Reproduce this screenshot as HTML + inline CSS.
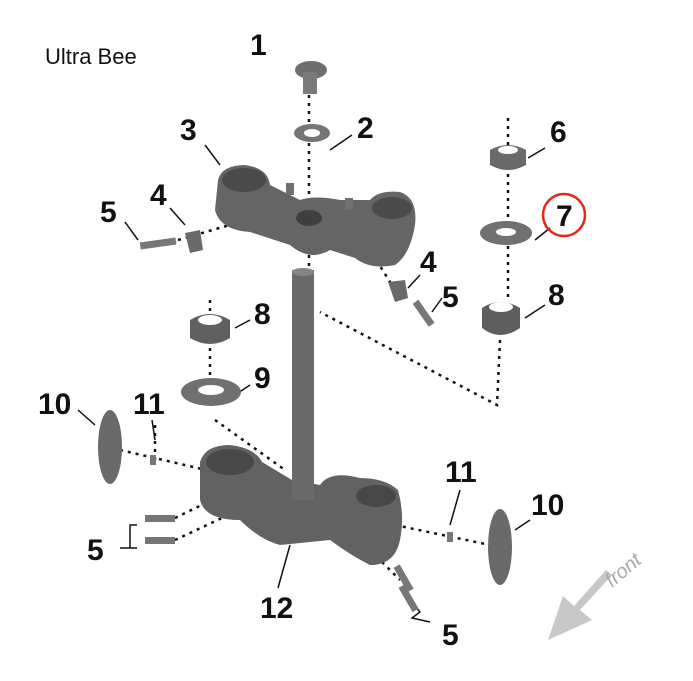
<!DOCTYPE html>
<html><head><meta charset="utf-8"><style>
html,body{margin:0;padding:0;background:#fff;}
svg{display:block;}
</style></head><body>
<svg width="693" height="681" viewBox="0 0 693 681" xmlns="http://www.w3.org/2000/svg">
<text x="45" y="64" font-family="Liberation Sans, sans-serif" font-size="22" fill="#111">Ultra Bee</text>
<g stroke="#111" stroke-width="2.5" stroke-dasharray="3,5" fill="none">
<line x1="309" y1="95" x2="309" y2="270"/>
<line x1="508" y1="118" x2="508" y2="300"/>
<polyline points="500,340 497,405 320,312"/>
<line x1="210" y1="300" x2="210" y2="400"/>
<line x1="178" y1="240" x2="240" y2="222"/>
<line x1="395" y1="290" x2="375" y2="258"/>
<line x1="120" y1="450" x2="215" y2="472"/>
<line x1="215" y1="420" x2="285" y2="470"/>
<line x1="175" y1="518" x2="222" y2="495"/>
<line x1="175" y1="540" x2="222" y2="518"/>
<line x1="395" y1="525" x2="490" y2="545"/>
<line x1="365" y1="545" x2="400" y2="580"/>
<line x1="155" y1="425" x2="155" y2="462"/>
</g>
<g stroke="#111" stroke-width="1.5">
<line x1="205" y1="145" x2="220" y2="165"/><line x1="352" y1="135" x2="330" y2="150"/>
<line x1="170" y1="208" x2="185" y2="225"/><line x1="125" y1="222" x2="138" y2="240"/>
<line x1="420" y1="275" x2="408" y2="288"/><line x1="442" y1="298" x2="432" y2="312"/>
<line x1="545" y1="148" x2="528" y2="158"/><line x1="550" y1="228" x2="535" y2="240"/>
<line x1="545" y1="305" x2="525" y2="318"/><line x1="250" y1="320" x2="235" y2="328"/>
<line x1="250" y1="385" x2="235" y2="395"/><line x1="78" y1="410" x2="95" y2="425"/>
<line x1="152" y1="420" x2="155" y2="440"/><line x1="290" y1="545" x2="278" y2="588"/>
<line x1="460" y1="490" x2="450" y2="525"/><line x1="530" y1="520" x2="515" y2="530"/>
<polyline points="137,525 130,525 130,548 120,548 137,548" fill="none"/>
<polyline points="410,600 420,612 412,618 430,622" fill="none"/>
</g>
<ellipse cx="311" cy="70" rx="16" ry="9" fill="#6e6e6e"/>
<rect x="303" y="72" width="14" height="22" fill="#7a7a7a"/>
<ellipse cx="312" cy="133" rx="18" ry="9" fill="#757575"/><ellipse cx="312" cy="133" rx="8" ry="4" fill="#fff"/>
<path d="M218,180 Q222,165 245,165 Q268,168 270,185 L300,200 Q315,195 340,200 L370,200 Q378,190 400,192 Q418,198 415,225 Q410,255 395,265 Q370,270 355,258 L330,250 Q310,262 290,245 L250,232 Q220,230 215,210 Z" fill="#656565"/>
<ellipse cx="244" cy="180" rx="22" ry="12" fill="#4a4a4a"/>
<ellipse cx="392" cy="208" rx="20" ry="11" fill="#4a4a4a"/>
<ellipse cx="309" cy="218" rx="13" ry="8" fill="#3f3f3f"/>
<rect x="286" y="183" width="8" height="12" fill="#707070"/><rect x="345" y="198" width="8" height="12" fill="#707070"/>
<rect x="140" y="240" width="36" height="7" fill="#777" transform="rotate(-8 158 243)"/>
<path d="M185,233 L200,230 L203,250 L190,253 Z" fill="#6a6a6a"/>
<path d="M388,282 L405,280 L408,298 L395,302 Z" fill="#6a6a6a"/>
<rect x="410" y="310" width="28" height="7" fill="#777" transform="rotate(55 424 313)"/>
<path d="M490,150 Q508,140 526,150 L526,165 Q508,175 490,165 Z" fill="#6a6a6a"/><ellipse cx="508" cy="150" rx="10" ry="4" fill="#fff"/>
<ellipse cx="506" cy="233" rx="26" ry="12" fill="#707070"/><ellipse cx="506" cy="232" rx="10" ry="4" fill="#fff"/>
<path d="M482,308 Q500,296 520,308 L520,328 Q500,342 482,328 Z" fill="#5e5e5e"/><ellipse cx="501" cy="307" rx="12" ry="5" fill="#fff"/>
<path d="M190,320 Q210,308 230,320 L230,338 Q210,350 190,338 Z" fill="#606060"/><ellipse cx="210" cy="320" rx="12" ry="5" fill="#fff"/>
<ellipse cx="211" cy="392" rx="30" ry="14" fill="#707070"/><ellipse cx="211" cy="390" rx="13" ry="5" fill="#fff"/>
<rect x="292" y="270" width="22" height="230" fill="#6a6a6a"/><ellipse cx="303" cy="272" rx="11" ry="4" fill="#858585"/>
<path d="M200,462 Q205,445 230,445 Q255,448 262,462 L292,480 L320,485 Q330,470 360,478 Q385,478 398,490 Q405,515 400,540 Q395,565 370,565 Q350,555 330,540 L280,545 Q260,540 240,520 Q205,520 200,500 Z" fill="#626262"/>
<ellipse cx="230" cy="462" rx="24" ry="13" fill="#484848"/>
<ellipse cx="376" cy="496" rx="20" ry="11" fill="#484848"/>
<rect x="292" y="440" width="22" height="60" fill="#6a6a6a"/>
<ellipse cx="110" cy="447" rx="12" ry="37" fill="#6a6a6a"/>
<ellipse cx="500" cy="547" rx="12" ry="38" fill="#6a6a6a"/>
<rect x="150" y="455" width="6" height="10" fill="#777"/><rect x="447" y="532" width="6" height="10" fill="#777"/>
<rect x="145" y="515" width="30" height="7" fill="#777"/><rect x="145" y="537" width="30" height="7" fill="#777"/>
<rect x="390" y="575" width="28" height="7" fill="#777" transform="rotate(60 404 578)"/>
<rect x="395" y="595" width="28" height="7" fill="#777" transform="rotate(60 409 598)"/>
<g font-family="Liberation Sans, sans-serif" font-weight="bold" font-size="30" fill="#111">
<text x="250" y="55">1</text><text x="357" y="138">2</text><text x="180" y="140">3</text>
<text x="150" y="205">4</text><text x="100" y="222">5</text>
<text x="420" y="272">4</text><text x="442" y="307">5</text>
<text x="550" y="142">6</text><text x="556" y="226">7</text><text x="548" y="305">8</text>
<text x="254" y="324">8</text><text x="254" y="388">9</text>
<text x="38" y="414">10</text><text x="133" y="414">11</text>
<text x="87" y="560">5</text><text x="260" y="618">12</text>
<text x="445" y="482">11</text><text x="531" y="515">10</text><text x="442" y="645">5</text>
</g>
<circle cx="564" cy="215" r="21" fill="none" stroke="#e8261a" stroke-width="2.5"/>
<path d="M612,575 L580,610 L592,620 L548,640 L563,596 L574,606 L606,570 Z" fill="#c8c8c8"/>
<text x="0" y="0" font-family="Liberation Sans, sans-serif" font-style="italic" font-size="20" fill="#aaa" transform="translate(612,588) rotate(-40)">front</text>
</svg>
</body></html>
